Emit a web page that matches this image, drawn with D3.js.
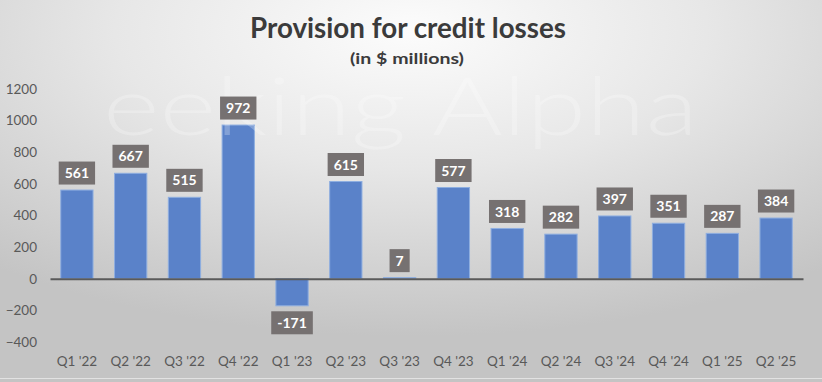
<!DOCTYPE html>
<html><head><meta charset="utf-8">
<script src="https://cdn.jsdelivr.net/npm/d3@7"></script>
<style>html,body{margin:0;padding:0;background:#fff;}svg{display:block;}</style>
</head><body>
<script>
const categories = ["Q1 '22","Q2 '22","Q3 '22","Q4 '22","Q1 '23","Q2 '23","Q3 '23","Q4 '23","Q1 '24","Q2 '24","Q3 '24","Q4 '24","Q1 '25","Q2 '25"];
const values = [561,667,515,972,-171,615,7,577,318,282,397,351,287,384];
const yTicks = [-400,-200,0,200,400,600,800,1000,1200];
const titleText = "Provision for credit losses";
const subtitleText = "(in $ millions)";

const W = 822, H = 382;
const svg = d3.select("body").append("svg").attr("width", W).attr("height", H);
const defs = svg.append("defs");
const grad = defs.append("radialGradient").attr("id","bg")
  .attr("cx","50%").attr("cy","8%").attr("r","80%").attr("fx","50%").attr("fy","8%");
grad.append("stop").attr("offset","0%").attr("stop-color","#fcfcfc");
grad.append("stop").attr("offset","45%").attr("stop-color","#e7e7e7");
grad.append("stop").attr("offset","100%").attr("stop-color","#c4c4c4");
svg.append("rect").attr("width",W).attr("height",H).attr("fill","url(#bg)");

const font = "Lato, 'Open Sans', sans-serif";

const x = d3.scaleBand().domain(categories).range([50,803]).paddingInner(0.4).paddingOuter(0.2);
const y = d3.scaleLinear().domain([-400,1200]).range([342,89]);

// bars
svg.append("g").selectAll("rect").data(values).join("rect")
  .attr("x",(d,i)=>x(categories[i]))
  .attr("width",x.bandwidth())
  .attr("y",d=>y(Math.max(0,d)))
  .attr("height",d=>Math.abs(y(d)-y(0)))
  .attr("fill","#5a82c9")
  .attr("stroke","#8eaee0").attr("stroke-width",1);

// faint watermark
svg.append("text").text("eeking Alpha").attr("x",103).attr("y",135)
  .attr("font-family",font).attr("font-weight",300).attr("font-size",80).attr("fill","#ffffff").attr("opacity",0.25)
  .attr("textLength",595).attr("lengthAdjust","spacingAndGlyphs");

// zero axis line
const xAxis = d3.axisBottom(x).tickSize(0).tickFormat("");
svg.append("g").attr("transform",`translate(0,${y(0)})`).call(xAxis)
  .call(g=>g.select(".domain").attr("stroke","#5a5a5a").attr("stroke-width",2));

// x labels
const xLab = d3.axisBottom(x).tickSize(0).tickPadding(0);
svg.append("g").attr("transform","translate(0,356)").call(xLab)
  .call(g=>g.select(".domain").remove())
  .call(g=>g.selectAll("text").attr("font-family",font).attr("font-size",13.5).attr("fill","#595959").attr("dy","0.71em"));

// y labels
const yAxis = d3.axisLeft(y).tickValues(yTicks).tickFormat(d3.format("d")).tickSize(0).tickPadding(0);
svg.append("g").attr("transform","translate(37,0)").call(yAxis)
  .call(g=>g.select(".domain").remove())
  .call(g=>g.selectAll("text").attr("font-family",font).attr("font-size",13.5).attr("fill","#595959"));

// data labels
const lg = svg.append("g");
values.forEach((v,i)=>{
  const cx = x(categories[i]) + x.bandwidth()/2;
  const g = lg.append("g");
  const t = g.append("text").text(v).attr("font-family",font).attr("font-weight","bold")
    .attr("font-size",14).attr("fill","#ffffff").attr("text-anchor","middle");
  const bw = t.node().getComputedTextLength() + 12;
  const bh = 23;
  const top = v >= 0 ? y(v) - 5.5 - bh : y(v) + 5.5;
  g.insert("rect","text").attr("x",cx-bw/2).attr("y",top).attr("width",bw).attr("height",bh).attr("fill","#767171");
  t.attr("x",cx).attr("y",top+bh/2).attr("dy","0.36em");
});

// title
svg.append("text").text(titleText).attr("x",408).attr("y",38).attr("text-anchor","middle")
  .attr("font-family",font).attr("font-weight","bold").attr("font-size",28).attr("fill","#3b3b3b")
  .attr("textLength",316).attr("lengthAdjust","spacingAndGlyphs");
svg.append("text").text(subtitleText).attr("x",407).attr("y",64).attr("text-anchor","middle")
  .attr("font-family",font).attr("font-weight","bold").attr("font-size",16).attr("fill","#3b3b3b")
  .attr("textLength",114).attr("lengthAdjust","spacingAndGlyphs");

// light border
svg.append("line").attr("x1",0).attr("x2",W).attr("y1",H-3.5).attr("y2",H-3.5).attr("stroke","#e2e2e2").attr("stroke-width",1);
</script>
</body></html>
